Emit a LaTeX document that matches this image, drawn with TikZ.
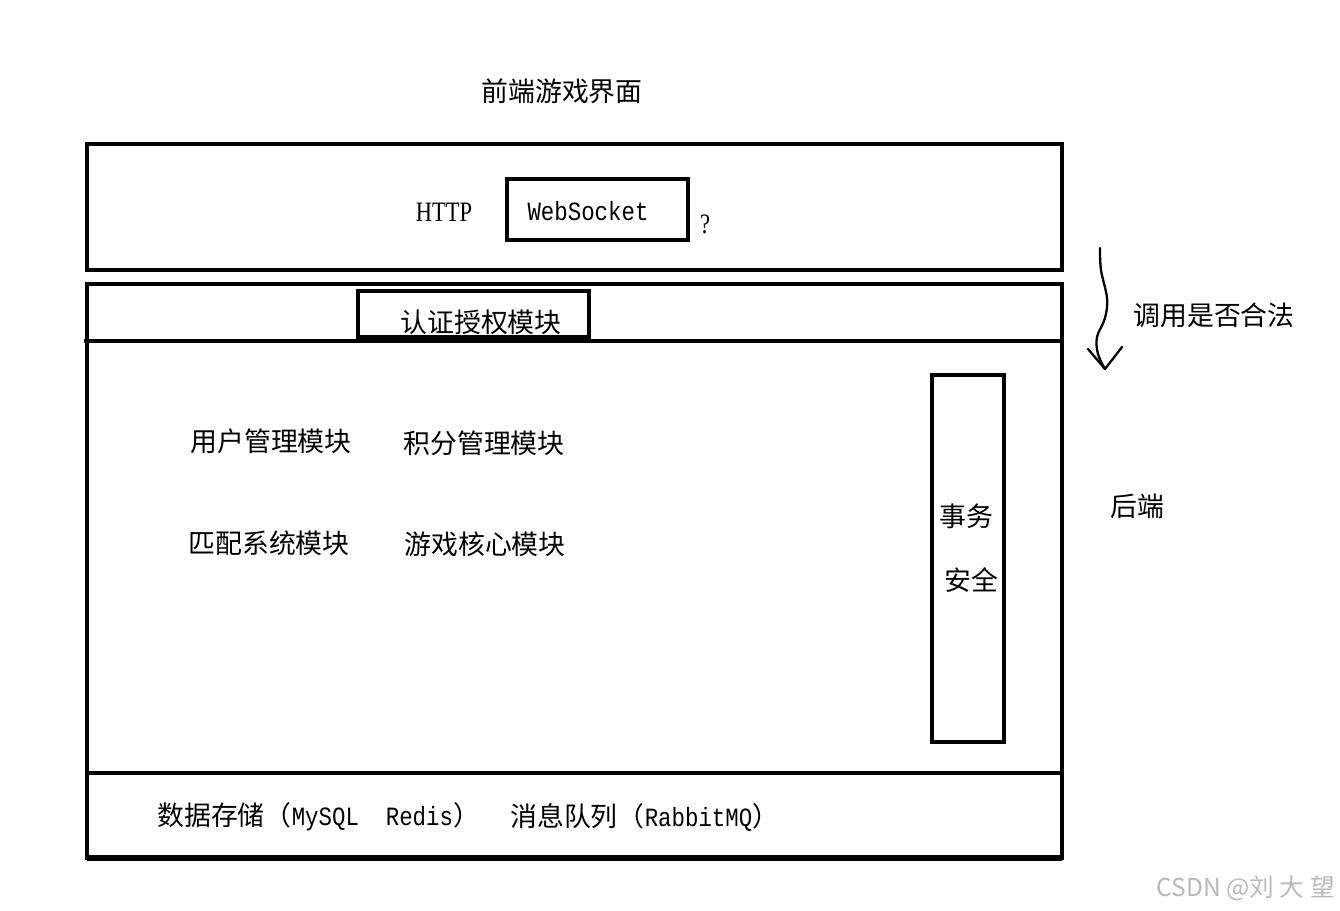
\documentclass[tikz,border=0pt]{standalone}
\usepackage{fontspec}
\setmainfont{Liberation Serif}
\newfontfamily\cjk{Noto Sans CJK SC}
\newfontfamily\mono[FakeStretch=0.85]{Liberation Mono}
\newfontfamily\narrowserif[FakeStretch=0.8]{Liberation Serif}
\newcommand\monotext[1]{{\mono\fontsize{15}{18}\selectfont #1}}

\begin{document}
\begin{tikzpicture}[x=0.02cm, y=-0.02cm,
    box/.style={draw=black, line width=2.3pt},
    zh/.style={inner sep=0pt, font=\cjk\fontsize{15.3}{18}\selectfont},
    en/.style={inner sep=0pt, font=\narrowserif\fontsize{16}{18}\selectfont},
    tt/.style={inner sep=0pt, font=\mono\fontsize{15}{18}\selectfont},
    hand/.style={draw=black, line width=1.3pt, line cap=round, line join=round}]
    \useasboundingbox (0,0) rectangle (1340,911);
    % frontend
    \node[zh] (front) at (562,91) {前端游戏界面};
    \draw[box] (87,144) rectangle (1062,270);
    \node[en] (http) at (444,212) {HTTP};
    \draw[box] (507,179) rectangle (688,240);
    \node[tt] (ws) at (588,211) {WebSocket};
    \node[en] (ask) at (705,224) {?};
    % backend
    \draw[box] (87,284) rectangle (1062,858);
    \draw[box] (84,341) -- (1062,341);
    \draw[line width=1.8pt] (87,773) -- (1062,773);
    \draw[line width=3.2pt] (87,858) -- (1062,858);
    \draw[box] (358,291) rectangle (589,337);
    \node[zh] (auth) at (481,322) {认证授权模块};
    \node[zh] (user) at (271,441) {用户管理模块};
    \node[zh] (score) at (484,443) {积分管理模块};
    \node[zh] (match) at (269,543) {匹配系统模块};
    \node[zh] (core) at (485,544) {游戏核心模块};
    \draw[box] (932,375) rectangle (1004,742);
    \node[zh] (tx) at (966,516) {事务};
    \node[zh] (safe) at (971,580) {安全};
    \node[zh, anchor=west] (store) at (157,817) {数据存储（\monotext{MySQL\ \ Redis}）};
    \node[zh, anchor=west] (mq) at (510,817) {消息队列（\monotext{RabbitMQ}）};
    % right side notes
    \coordinate (callfrom) at (1100,248);
    \coordinate (callto) at (1105,369);
    \draw[hand] plot[smooth, tension=0.6] coordinates {(callfrom) (1101,270) (1107,298) (1105,318) (1097,337) (1098,354) (callto)};
    \draw[hand] (1088,349) -- (callto) -- (1122,347);
    \node[zh] (legal) at (1214,315) {调用是否合法};
    \node[zh] (back) at (1137,506) {后端};
    \node[inner sep=0pt, anchor=east, text=gray!55, font=\cjk\fontsize{14}{16}\selectfont] (mark) at (1335,888) {CSDN @刘 大 望};
\end{tikzpicture}
\end{document}
